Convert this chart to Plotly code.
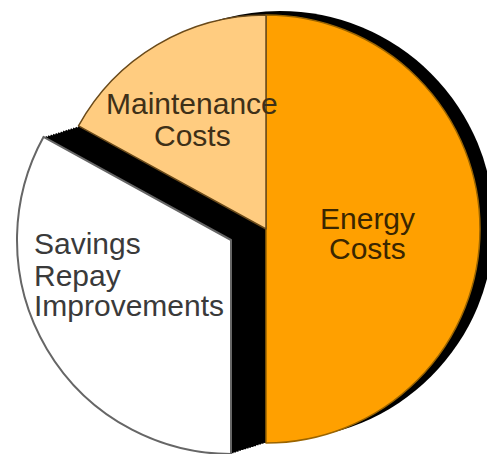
import plotly.graph_objects as go

# the page body adds an 8px margin, so the figure is sized to fit the 495x454 window
OFF = 8
W, H = 495 - OFF, 454 - OFF

# ---- data ----
labels = ["Energy Costs", "Savings Repay Improvements", "Maintenance Costs"]
values = [50, 33, 17]
colors = ["#FFA000", "#FFFFFF", "#FFCC80"]
label_lines = [["Energy", "Costs"], ["Savings", "Repay", "Improvements"], ["Maintenance", "Costs"]]

# ---- layout helpers (pixel geometry in window coordinates) ----
R = 214
MAIN_C = (266, 229)
PULL_C = (231, 240)
SHADOW_C = (280, 225)


def dom(cx, cy, r=R):
    cx, cy = cx - OFF, cy - OFF
    clamp = lambda v: max(0.0, min(1.0, v))
    return dict(x=[clamp((cx - r) / W), clamp((cx + r) / W)],
                y=[clamp((H - cy - r) / H), clamp((H - cy + r) / H)])


TRANSP = "rgba(0,0,0,0)"
common = dict(labels=labels, values=values, sort=False, direction="clockwise",
              rotation=0, textinfo="none", hoverinfo="label+percent", showlegend=False)

fig = go.Figure()

# shadow (3D depth on the right)
fig.add_trace(go.Pie(**common, domain=dom(*SHADOW_C),
                     marker=dict(colors=["#000000"] * 3, line=dict(width=0))))

# black side wall revealed by the pulled-out slice
N = 14
for i in range(N + 1):
    t = i / N
    cx = MAIN_C[0] + (PULL_C[0] - MAIN_C[0]) * t
    cy = MAIN_C[1] + (PULL_C[1] - MAIN_C[1]) * t
    fig.add_trace(go.Pie(**common, domain=dom(cx, cy),
                         marker=dict(colors=[TRANSP, "#000000", TRANSP], line=dict(width=0))))

# main pie (energy + maintenance)
fig.add_trace(go.Pie(**common, domain=dom(*MAIN_C),
                     marker=dict(colors=[colors[0], TRANSP, colors[2]],
                                 line=dict(color=["#9A6400", TRANSP, "#6A4A1A"],
                                           width=[1.5, 0, 1.5]))))

# pulled-out slice
fig.add_trace(go.Pie(**common, domain=dom(*PULL_C),
                     marker=dict(colors=[TRANSP, colors[1], TRANSP],
                                 line=dict(color=[TRANSP, "#666666", TRANSP],
                                           width=[0, 2, 0]))))

# ---- labels as annotations ----
text_pos = {
    0: dict(x=367, ys=[218, 248], anchor="center", color="#3A2600"),
    1: dict(x=32, ys=[243, 275, 305], anchor="left", color="#3A3A3A"),
    2: dict(x=192, ys=[104, 135], anchor="center", color="#3E3018"),
}
annotations = []
for idx, lines in enumerate(label_lines):
    p = text_pos[idx]
    for line, y in zip(lines, p["ys"]):
        annotations.append(dict(text=line, x=(p["x"] - OFF) / W, y=(H - (y - OFF)) / H,
                                xref="paper", yref="paper",
                                xanchor=p["anchor"], yanchor="middle", showarrow=False,
                                font=dict(family="Liberation Sans, Arial, sans-serif", size=30,
                                          color=p["color"])))

fig.update_layout(width=W, height=H, margin=dict(l=0, r=0, t=0, b=0),
                  paper_bgcolor="white", plot_bgcolor="white", annotations=annotations)

fig.write_html("out.html")
